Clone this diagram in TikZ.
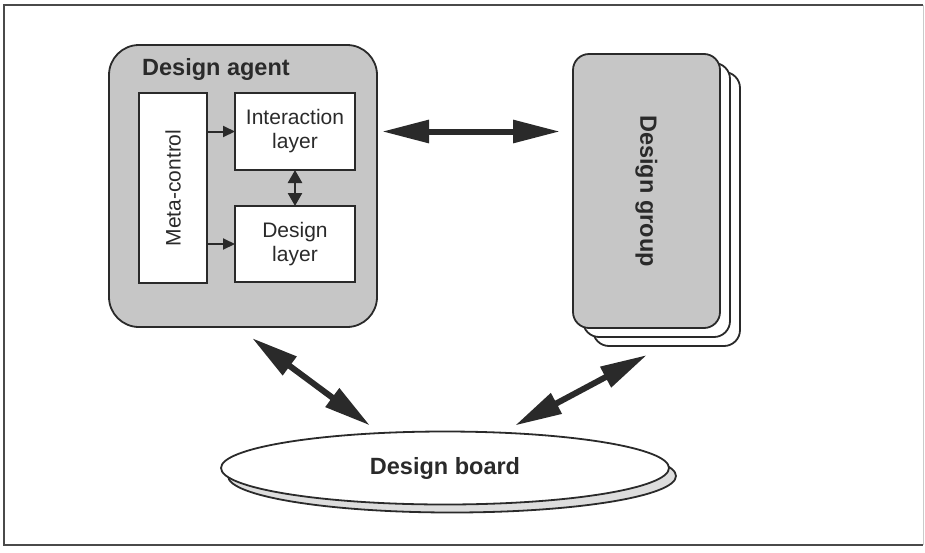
\documentclass[tikz,border=0pt]{standalone}
\usepackage{fontspec}
\setmainfont{Liberation Sans}
\usetikzlibrary{arrows.meta,shapes.geometric,calc}
\definecolor{ink}{HTML}{2A2A2A}
\definecolor{panel}{HTML}{C6C6C6}
\definecolor{shade}{HTML}{DDDDDD}
\tikzset{
  panelbox/.style={draw=ink, line width=1.8pt, fill=panel, rounded corners=#1,
    inner sep=0pt, outer sep=0pt},
  whitebox/.style={draw=ink, line width=1.8pt, fill=white, inner sep=0pt, outer sep=0pt,
    align=center, font=\fontsize{21}{24}\selectfont, text=ink},
  card/.style={draw=ink, line width=1.8pt, fill=white, rounded corners=16pt,
    minimum width=147pt, minimum height=274pt, inner sep=0pt, outer sep=0pt},
  boldlabel/.style={font=\fontsize{23.5}{28}\selectfont\bfseries, text=ink, inner sep=0pt},
  bigarrow/.style={draw=ink, line width=6pt,
    {Triangle[length=47pt,width=22pt]}-{Triangle[length=47pt,width=22pt]}},
  smallarrow/.style={draw=ink, line width=2pt, -{Triangle[length=12pt,width=11pt]}},
  smalldouble/.style={draw=ink, line width=2.6pt,
    {Triangle[length=13pt,width=14pt]}-{Triangle[length=13pt,width=14pt]}},
}
\begin{document}
\begin{tikzpicture}[x=1pt,y=-1pt]
\useasboundingbox (0,0) rectangle (925,552);
% outer frame
\draw[line width=2.6pt, draw=ink!85] (923,5) -- (4,5) -- (4,545) -- (923,545);
\draw[line width=1pt, draw=ink!25] (923,5) -- (923,545);

% design agent
\node[panelbox=30pt, minimum width=268pt, minimum height=282pt] (agent) at (243,186) {};
\node[boldlabel, anchor=base west] (agentlabel) at (142,75) {Design agent};
\node[whitebox, minimum width=68pt, minimum height=190pt] (meta) at (173,188)
  {\rotatebox{90}{Meta-control}};
\node[whitebox, minimum width=120pt, minimum height=77pt] (ia) at (295,131.5)
  {Interaction\\layer};
\node[whitebox, minimum width=120pt, minimum height=76pt] (dl) at (295,244)
  {Design\\layer};
\draw[smallarrow] (meta.east |- ia.west) -- (ia.west);
\draw[smallarrow] (meta.east |- dl.west) -- (dl.west);
\draw[smalldouble] (ia.south) -- (dl.north);

% design group: stacked cards
\node[card] (group3) at (666.5,209) {};
\node[card] (group2) at (656.5,200) {};
\node[card, fill=panel] (group) at (646.5,191) {};
\node[boldlabel] (grouplabel) at (group.center) {\rotatebox{-90}{Design group}};

% design board
\node[ellipse, draw=ink, line width=1.8pt, fill=shade, minimum width=448pt,
  minimum height=73pt, inner sep=0pt, outer sep=0pt] (boardshadow) at (452,476) {};
\node[ellipse, draw=ink, line width=1.8pt, fill=white, minimum width=448pt,
  minimum height=73pt, inner sep=0pt, outer sep=0pt, boldlabel] (board) at (445,468)
  {Design board};

% links
\draw[bigarrow] ([xshift=5pt]agent.east |- ia.center) -- ([xshift=-13pt]group.west |- ia.center);
\draw[bigarrow] ($(agent.south)+(9,11)$) -- ($(board.north)+(-75,-6)$);
\draw[bigarrow] ($(group.south)+(0.5,27)$) -- ($(board.north)+(70,-6)$);
\end{tikzpicture}
\end{document}
